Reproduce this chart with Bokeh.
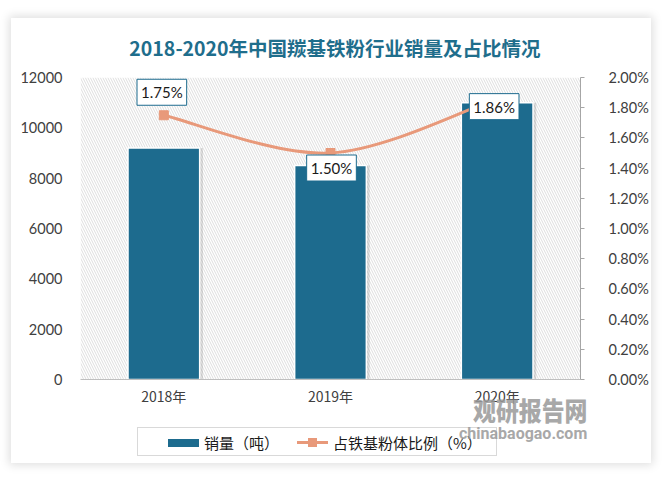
import numpy as np
from bokeh.plotting import figure
from bokeh.models import (Range1d, LinearAxis, FixedTicker, PrintfTickFormatter, Label,
                          BoxAnnotation, ColumnDataSource, Div)
from bokeh.layouts import column
from bokeh.transform import dodge
from bokeh.embed import file_html
from bokeh.resources import INLINE

# ---------------- data ----------------
years = ["2018年", "2019年", "2020年"]
sales = [9200, 8500, 11000]            # 销量（吨）
share = [1.75, 1.50, 1.86]             # 占铁基粉体比例（%）
share_labels = ["1.75%", "1.50%", "1.86%"]
left_ticks = [0, 2000, 4000, 6000, 8000, 10000, 12000]
right_ticks = [0.0, 0.2, 0.4, 0.6, 0.8, 1.0, 1.2, 1.4, 1.6, 1.8, 2.0]

title_text = "2018-2020年中国羰基铁粉行业销量及占比情况"
bar_name = "销量（吨）"
line_name = "占铁基粉体比例（%）"
wm_cn = "观研报告网"
wm_en = "chinabaogao.com"

# ---------------- styles ----------------
BAR = "#1d6b8e"
LINE = "#e8997a"
TITLE = "#1f6e8c"
TICK_FONT = "Lato"
CJK = "Noto Sans CJK SC"

xpos = [i + 0.5 for i in range(len(years))]
src = ColumnDataSource(dict(x=xpos, sales=sales, share=share))

p = figure(frame_width=500, frame_height=302, output_backend="svg", toolbar_location=None,
           x_range=Range1d(0, len(years)), y_range=Range1d(0, 12000),
           min_border_left=69, min_border_right=69, min_border_top=59, min_border_bottom=84)
p.styles = {"margin-left": "11px", "margin-top": "18px",
            "box-shadow": "0px 0px 9px 2px rgba(0,0,0,0.13)"}
p.outline_line_color = None
p.background_fill_color = "white"
p.border_fill_color = "white"
p.xgrid.visible = False
p.ygrid.visible = False

# hatched plot area
p.add_layout(BoxAnnotation(left=0, right=len(years), bottom=0, top=12000,
                           fill_color=None, line_color=None,
                           hatch_pattern="\\", hatch_color="#dedede",
                           hatch_weight=1, hatch_scale=5, level="underlay"))

# left axis
la = p.yaxis[0]
la.ticker = FixedTicker(ticks=left_ticks)
la.axis_line_color = None
la.major_tick_line_color = None
la.minor_tick_line_color = None
la.major_label_text_font = TICK_FONT
la.major_label_text_font_size = "14.5px"
la.major_label_text_color = "#404040"
la.major_label_standoff = 12

# bottom axis
ba = p.xaxis[0]
ba.ticker = FixedTicker(ticks=xpos)
ba.major_label_overrides = {x: y for x, y in zip(xpos, years)}
ba.axis_line_color = "#bfbfbf"
ba.major_tick_line_color = None
ba.minor_tick_line_color = None
ba.major_label_text_font = CJK
ba.major_label_text_font_size = "14px"
ba.major_label_text_color = "#404040"
ba.major_label_standoff = 0

# right axis
p.extra_y_ranges = {"r": Range1d(0, 2.0)}
ra = LinearAxis(y_range_name="r", ticker=FixedTicker(ticks=right_ticks),
                formatter=PrintfTickFormatter(format="%.2f%%"))
ra.axis_line_color = "#a6a6a6"
ra.major_tick_line_color = "#a6a6a6"
ra.major_tick_in = 0
ra.major_tick_out = 4
ra.minor_tick_line_color = None
ra.major_label_text_font = TICK_FONT
ra.major_label_text_font_size = "14.5px"
ra.major_label_text_color = "#404040"
ra.major_label_standoff = 24
p.add_layout(ra, "right")

# bar shadow + bars
p.vbar(x=dodge("x", 0.012, range=p.x_range), top="sales", width=0.445, source=src,
       fill_color="#000000", fill_alpha=0.12, line_color=None)
p.vbar(x="x", top="sales", width=0.43, source=src,
       fill_color=BAR, line_color="white", line_width=1.5)

# smooth line through the share points (Catmull-Rom as bezier segments)
P = np.array(share, dtype=float)
X = np.array(xpos, dtype=float)
n = len(P)
tx = np.array([(X[min(i + 1, n - 1)] - X[max(i - 1, 0)]) / 2 for i in range(n)])
ty = np.array([(P[min(i + 1, n - 1)] - P[max(i - 1, 0)]) / 2 for i in range(n)])
bsrc = ColumnDataSource(dict(
    x0=X[:-1], y0=P[:-1], x1=X[1:], y1=P[1:],
    cx0=X[:-1] + tx[:-1] / 3, cy0=P[:-1] + ty[:-1] / 3,
    cx1=X[1:] - tx[1:] / 3, cy1=P[1:] - ty[1:] / 3))
p.bezier(x0="x0", y0="y0", x1="x1", y1="y1", cx0="cx0", cy0="cy0",
         cx1="cx1", cy1="cy1", source=bsrc, y_range_name="r",
         line_color=LINE, line_width=3)
p.scatter(x="x", y="share", source=src, y_range_name="r", marker="square",
          size=9, fill_color=LINE, line_color=LINE)

# data labels
lab_dx = [-2, 1, -3]
lab_dy = [23, -15, -8]
for xi, yi, t, dx, dy in zip(xpos, share, share_labels, lab_dx, lab_dy):
    p.add_layout(Label(x=xi, y=yi, y_range_name="r", text=t, x_offset=dx, y_offset=dy,
                       text_align="center", text_baseline="middle",
                       text_font=TICK_FONT, text_font_size="15px", text_color="#1a1a1a",
                       background_fill_color="white", border_line_color=BAR,
                       border_line_width=1, padding=4))

# ---------------- title (overlay) ----------------
tt = Div(text=(f'<div style="width:638px;height:34px;line-height:34px;text-align:center;'
               f'font-family:\'{CJK}\';font-weight:bold;font-size:19.5px;color:{TITLE};'
               f'white-space:nowrap;">{title_text}</div>'),
         width=638, height=34,
         styles={"position": "absolute", "left": "11px", "top": "26px"})

# ---------------- legend (overlay) ----------------
lg_html = (
    '<div style="position:relative;width:360px;height:29px;border:1px solid #d9d9d9;'
    'background:white;">'
    f'<div style="position:absolute;left:30px;top:11px;width:31px;height:8px;'
    f'background:{BAR};"></div>'
    f'<div style="position:absolute;left:66px;top:0px;line-height:29px;font-size:15px;'
    f'font-family:\'{CJK}\';color:#1a1a1a;white-space:nowrap;">{bar_name}</div>'
    f'<div style="position:absolute;left:159px;top:13px;width:31px;height:3px;'
    f'background:{LINE};"></div>'
    f'<div style="position:absolute;left:170px;top:10px;width:9px;height:9px;'
    f'background:{LINE};"></div>'
    f'<div style="position:absolute;left:195px;top:0px;line-height:29px;font-size:15px;'
    f'font-family:\'{CJK}\';color:#1a1a1a;white-space:nowrap;">{line_name}</div>'
    '</div>')
lg = Div(text=lg_html, width=362, height=31,
         styles={"position": "absolute", "left": "132px", "top": "422px"})

# watermark overlay
wm = Div(text=(f'<div style="font-family:\'{CJK}\';font-weight:900;font-size:26px;'
               f'color:#9a9a9a;line-height:28px;opacity:0.85;transform:scaleX(0.88);'
               f'transform-origin:left;white-space:nowrap;">{wm_cn}</div>'
               f'<div style="font-family:Roboto;font-weight:bold;font-size:16px;color:#9a9a9a;'
               f'line-height:20px;opacity:0.85;margin-left:-14px;">{wm_en}</div>'),
         width=180, height=55,
         styles={"position": "absolute", "left": "468px", "top": "391px",
                 "pointer-events": "none"})

root = column(p, tt, lg, wm)
open("out.html", "w").write(file_html(root, INLINE))
